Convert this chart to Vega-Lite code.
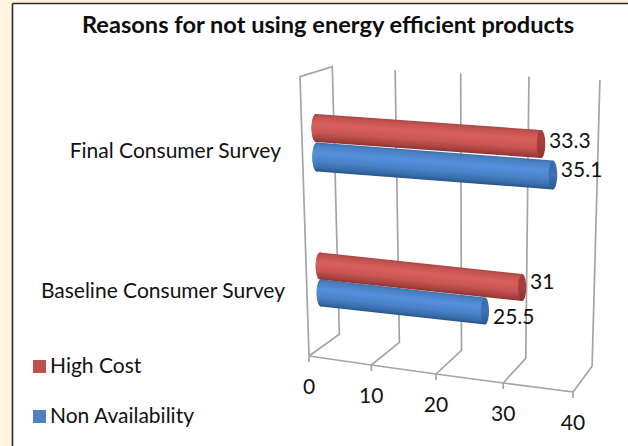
{
  "$schema": "https://vega.github.io/schema/vega-lite/v6.json",
  "width": 616,
  "height": 443,
  "autosize": "none",
  "padding": {"left": 12, "top": 3, "right": 0, "bottom": 0},
  "background": "#fff4e0",
  "view": {"fill": "#ffffff", "stroke": null},
  "encoding": {
    "x": {
      "field": "px", "type": "quantitative",
      "scale": {"domain": [12, 628]},
      "axis": {"orient": "top", "title": null, "grid": false, "ticks": false, "labels": false, "domain": true, "domainColor": "#2a2a2a", "domainWidth": 1.6}
    },
    "y": {
      "field": "py", "type": "quantitative",
      "scale": {"domain": [3, 446], "reverse": true},
      "axis": {"orient": "left", "title": null, "grid": false, "ticks": false, "labels": false, "domain": true, "domainColor": "#2a2a2a", "domainWidth": 1.6}
    }
  },
  "layer": [
    {
      "name": "heading",
      "data": {"values": [{"heading": "Reasons for not using energy efficient products"}]},
      "transform": [
        {"calculate": "328", "as": "px"},
        {"calculate": "26", "as": "py"}
      ],
      "mark": {"type": "text", "font": "Lato", "fontSize": 23.6, "fontWeight": "bold", "color": "#0d0d0d", "align": "center", "baseline": "middle"},
      "encoding": {"text": {"field": "heading"}}
    },
    {
      "name": "walls",
      "data": {"values": [
        {"tick": 0, "step": 0, "corner": "tickEnd"},
        {"tick": 0, "step": 1, "corner": "front"},
        {"tick": 0, "step": 2, "corner": "frontTop"},
        {"tick": 0, "step": 3, "corner": "top"},
        {"tick": 0, "step": 4, "corner": "back"},
        {"tick": 0, "step": 5, "corner": "front"},
        {"tick": 10, "step": 0, "corner": "tickEnd"},
        {"tick": 10, "step": 1, "corner": "front"},
        {"tick": 10, "step": 2, "corner": "back"},
        {"tick": 10, "step": 3, "corner": "top"},
        {"tick": 20, "step": 0, "corner": "tickEnd"},
        {"tick": 20, "step": 1, "corner": "front"},
        {"tick": 20, "step": 2, "corner": "back"},
        {"tick": 20, "step": 3, "corner": "top"},
        {"tick": 30, "step": 0, "corner": "tickEnd"},
        {"tick": 30, "step": 1, "corner": "front"},
        {"tick": 30, "step": 2, "corner": "back"},
        {"tick": 30, "step": 3, "corner": "top"},
        {"tick": 40, "step": 0, "corner": "tickEnd"},
        {"tick": 40, "step": 1, "corner": "front"},
        {"tick": 40, "step": 2, "corner": "back"},
        {"tick": 40, "step": 3, "corner": "top"}
      ]},
      "transform": [
        {"calculate": "datum.corner === 'top' ? 332.3 + 6.15 * datum.tick + 0.0135 * datum.tick * datum.tick : datum.corner === 'back' ? 339.3 + 5.9 * datum.tick + 0.0105 * datum.tick * datum.tick : datum.corner === 'frontTop' ? 300 : 309 + 6.1 * datum.tick + 0.0125 * datum.tick * datum.tick", "as": "px"},
        {"calculate": "datum.corner === 'top' ? 66.7 + 0.33 * datum.tick : datum.corner === 'back' ? 334.3 + 0.8 * datum.tick : datum.corner === 'frontTop' ? 76.7 : datum.corner === 'tickEnd' ? 362 + 0.9 * datum.tick : 356 + 0.9 * datum.tick", "as": "py"}
      ],
      "layer": [
        {
          "mark": {"type": "line", "color": "#a4a4a4", "strokeWidth": 1.7, "clip": false},
          "encoding": {"detail": {"field": "tick"}, "order": {"field": "step"}}
        },
        {
          "transform": [{"filter": "datum.corner === 'front' && datum.step === 1"}],
          "mark": {"type": "line", "color": "#a4a4a4", "strokeWidth": 1.7},
          "encoding": {"order": {"field": "tick"}}
        },
        {
          "transform": [
            {"filter": "datum.corner === 'front' && datum.step === 1"},
            {"calculate": "datum.py + 32", "as": "labelY"}
          ],
          "mark": {"type": "text", "font": "Lato", "fontSize": 21, "color": "#111111", "align": "center", "baseline": "middle"},
          "encoding": {
            "y": {"field": "labelY", "type": "quantitative", "scale": {"domain": [3, 446], "reverse": true}},
            "text": {"field": "tick", "type": "quantitative"}
          }
        }
      ]
    },
    {
      "name": "surveys",
      "data": {"values": [
        {"survey": "Final Consumer Survey"},
        {"survey": "Baseline Consumer Survey"}
      ]},
      "transform": [
        {"calculate": "datum.survey === 'Final Consumer Survey' ? 281 : 285", "as": "px"},
        {"calculate": "datum.survey === 'Final Consumer Survey' ? 151.5 : 291.5", "as": "py"}
      ],
      "mark": {"type": "text", "font": "Lato", "fontSize": 21, "color": "#111111", "align": "right", "baseline": "middle"},
      "encoding": {"text": {"field": "survey"}}
    },
    {
      "name": "cylinders",
      "data": {"values": [
        {"survey": "Final Consumer Survey", "series": "High Cost", "value": 33.3},
        {"survey": "Final Consumer Survey", "series": "Non Availability", "value": 35.1},
        {"survey": "Baseline Consumer Survey", "series": "High Cost", "value": 31},
        {"survey": "Baseline Consumer Survey", "series": "Non Availability", "value": 25.5}
      ]},
      "transform": [
        {"calculate": "substring(datum.survey, 0, 1) + substring(datum.series, 0, 1)", "as": "key"},
        {"calculate": "{FH: 316, FN: 317, BH: 320, BN: 321}[datum.key]", "as": "x0"},
        {"calculate": "{FH: 128, FN: 157, BH: 266, BN: 293}[datum.key]", "as": "y0"},
        {"calculate": "{FH: 6.76, FN: 6.72, BH: 6.52, BN: 6.43}[datum.key]", "as": "kx"},
        {"calculate": "{FH: 0.48, FN: 0.513, BH: 0.694, BN: 0.706}[datum.key]", "as": "ky"},
        {"calculate": "{FH: 14, FN: 14.5, BH: 13.5, BN: 13.5}[datum.key]", "as": "r"},
        {"calculate": "{FH: -2, FN: -4.5, BH: -4.5, BN: 7}[datum.key]", "as": "labelShift"},
        {"calculate": "0", "as": "start"},
        {"fold": ["start", "value"], "as": ["endName", "v"]},
        {"calculate": "datum.x0 + datum.kx * datum.v", "as": "px"},
        {"calculate": "datum.y0 + datum.ky * datum.v", "as": "py"},
        {"calculate": "datum.py - datum.r", "as": "ptop"},
        {"calculate": "datum.py + datum.r", "as": "pbot"},
        {"calculate": "pow(2 * datum.r, 2)", "as": "capSize"},
        {"calculate": "datum.py + datum.labelShift", "as": "labelY"}
      ],
      "layer": [
        {
          "transform": [{"filter": "datum.endName === 'start'"}],
          "mark": {"type": "point", "filled": true, "opacity": 1, "shape": "M0,-1 A0.32,1 0 1 1 0,1 A0.32,1 0 1 1 0,-1 Z"},
          "encoding": {
            "size": {"field": "capSize", "type": "quantitative", "scale": null},
            "color": {
              "field": "series", "type": "nominal",
              "scale": {"domain": ["High Cost", "Non Availability"], "range": ["#c0504d", "#4f81bd"]},
              "legend": {
                "orient": "none", "legendX": 17, "legendY": 353, "title": null,
                "symbolType": "square", "symbolSize": 170, "symbolStrokeWidth": 0, "symbolOpacity": 1,
                "labelFont": "Lato", "labelFontSize": 21, "labelColor": "#111111", "labelOffset": 0,
                "rowPadding": 28
              }
            }
          }
        },
        {
          "transform": [{"filter": "datum.endName === 'start' && datum.series === 'Non Availability'"}],
          "mark": {"type": "point", "filled": true, "opacity": 1, "shape": "M0,-1 A0.32,1 0 1 1 0,1 A0.32,1 0 1 1 0,-1 Z",
            "fill": {"gradient": "linear", "x1": 0, "y1": 0, "x2": 0, "y2": 1, "stops": [
              {"offset": 0, "color": "#3f70ad"}, {"offset": 0.35, "color": "#5590dd"}, {"offset": 0.7, "color": "#4a82c8"}, {"offset": 1, "color": "#2a5585"}]}},
          "encoding": {"size": {"field": "capSize", "type": "quantitative", "scale": null}}
        },
        {
          "transform": [{"filter": "datum.key === 'FN'"}],
          "mark": {"type": "area", "orient": "vertical", "fill": {"gradient": "linear", "x1": 0.603, "y1": 0.231, "x2": 0.397, "y2": 0.769, "stops": [
            {"offset": 0, "color": "#3f70ad"}, {"offset": 0.1, "color": "#4a80c4"}, {"offset": 0.35, "color": "#5590dd"}, {"offset": 0.65, "color": "#4a82c8"}, {"offset": 0.88, "color": "#356ca8"}, {"offset": 1, "color": "#2a5585"}]}},
          "encoding": {
            "y": {"field": "ptop", "type": "quantitative", "scale": {"domain": [3, 446], "reverse": true}},
            "y2": {"field": "pbot"}
          }
        },
        {
          "transform": [{"filter": "datum.key === 'BN'"}],
          "mark": {"type": "area", "orient": "vertical", "fill": {"gradient": "linear", "x1": 0.603, "y1": 0.241, "x2": 0.397, "y2": 0.759, "stops": [
            {"offset": 0, "color": "#3f70ad"}, {"offset": 0.1, "color": "#4a80c4"}, {"offset": 0.35, "color": "#5590dd"}, {"offset": 0.65, "color": "#4a82c8"}, {"offset": 0.88, "color": "#356ca8"}, {"offset": 1, "color": "#2a5585"}]}},
          "encoding": {
            "y": {"field": "ptop", "type": "quantitative", "scale": {"domain": [3, 446], "reverse": true}},
            "y2": {"field": "pbot"}
          }
        },
        {
          "transform": [{"filter": "datum.endName === 'value' && datum.series === 'Non Availability'"}],
          "mark": {"type": "point", "filled": true, "opacity": 1, "shape": "M0,-1 A0.3,1 0 1 1 0,1 A0.3,1 0 1 1 0,-1 Z",
            "fill": {"gradient": "linear", "x1": 0, "y1": 0, "x2": 0, "y2": 1, "stops": [
              {"offset": 0, "color": "#3a6bab"}, {"offset": 0.5, "color": "#3d72b5"}, {"offset": 1, "color": "#2d5a94"}]}},
          "encoding": {"size": {"field": "capSize", "type": "quantitative", "scale": null}}
        },
        {
          "transform": [{"filter": "datum.endName === 'start' && datum.series === 'High Cost'"}],
          "mark": {"type": "point", "filled": true, "opacity": 1, "shape": "M0,-1 A0.32,1 0 1 1 0,1 A0.32,1 0 1 1 0,-1 Z",
            "fill": {"gradient": "linear", "x1": 0, "y1": 0, "x2": 0, "y2": 1, "stops": [
              {"offset": 0, "color": "#a94543"}, {"offset": 0.35, "color": "#d9605c"}, {"offset": 0.7, "color": "#c95653"}, {"offset": 1, "color": "#8e3432"}]}},
          "encoding": {"size": {"field": "capSize", "type": "quantitative", "scale": null}}
        },
        {
          "transform": [{"filter": "datum.key === 'FH'"}],
          "mark": {"type": "area", "orient": "vertical", "fill": {"gradient": "linear", "x1": 0.602, "y1": 0.219, "x2": 0.398, "y2": 0.781, "stops": [
            {"offset": 0, "color": "#a94543"}, {"offset": 0.1, "color": "#c25250"}, {"offset": 0.35, "color": "#d9605c"}, {"offset": 0.65, "color": "#c95653"}, {"offset": 0.88, "color": "#a8423f"}, {"offset": 1, "color": "#8e3432"}]}},
          "encoding": {
            "y": {"field": "ptop", "type": "quantitative", "scale": {"domain": [3, 446], "reverse": true}},
            "y2": {"field": "pbot"}
          }
        },
        {
          "transform": [{"filter": "datum.key === 'BH'"}],
          "mark": {"type": "area", "orient": "vertical", "fill": {"gradient": "linear", "x1": 0.603, "y1": 0.267, "x2": 0.397, "y2": 0.733, "stops": [
            {"offset": 0, "color": "#a94543"}, {"offset": 0.1, "color": "#c25250"}, {"offset": 0.35, "color": "#d9605c"}, {"offset": 0.65, "color": "#c95653"}, {"offset": 0.88, "color": "#a8423f"}, {"offset": 1, "color": "#8e3432"}]}},
          "encoding": {
            "y": {"field": "ptop", "type": "quantitative", "scale": {"domain": [3, 446], "reverse": true}},
            "y2": {"field": "pbot"}
          }
        },
        {
          "transform": [{"filter": "datum.endName === 'value' && datum.series === 'High Cost'"}],
          "mark": {"type": "point", "filled": true, "opacity": 1, "shape": "M0,-1 A0.3,1 0 1 1 0,1 A0.3,1 0 1 1 0,-1 Z",
            "fill": {"gradient": "linear", "x1": 0, "y1": 0, "x2": 0, "y2": 1, "stops": [
              {"offset": 0, "color": "#a33f3d"}, {"offset": 0.5, "color": "#a83f3d"}, {"offset": 1, "color": "#8a3230"}]}},
          "encoding": {"size": {"field": "capSize", "type": "quantitative", "scale": null}}
        },
        {
          "transform": [{"filter": "datum.endName === 'value'"}],
          "mark": {"type": "text", "font": "Lato", "fontSize": 21, "color": "#111111", "align": "left", "baseline": "middle", "dx": 8},
          "encoding": {
            "y": {"field": "labelY", "type": "quantitative", "scale": {"domain": [3, 446], "reverse": true}},
            "text": {"field": "value", "type": "quantitative"}
          }
        }
      ]
    }
  ]
}
